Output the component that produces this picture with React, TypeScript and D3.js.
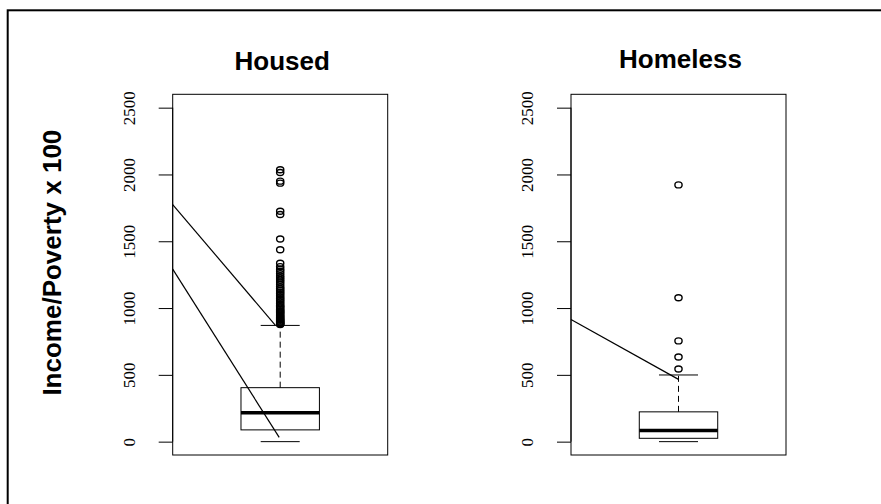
import React, { useEffect, useRef } from "react";
import * as d3 from "d3";

// box summaries, one entry per group
const groups = ["Housed", "Homeless"];
const lowerWhisker = [0, 0];
const q1 = [88, 25];
const medians = [216, 83];
const q3 = [404, 223];
const upperWhisker = [870, 499];

const housedOutliers = [
  876, 880, 885, 890, 896, 902, 908, 915, 922, 930, 938, 946, 955, 964, 972,
  980, 990, 1000, 1010, 1020, 1032, 1045, 1058, 1070, 1082, 1095, 1108, 1120,
  1133, 1146, 1160, 1178, 1195, 1210, 1225, 1240, 1258, 1275, 1290, 1310,
  1335, 1436, 1517, 1700, 1725, 1935, 1950, 2015, 2035,
];
const homelessOutliers = [544, 634, 754, 1077, 1922];

const yTicks = [0, 500, 1000, 1500, 2000, 2500];

// straight guide lines drawn over each panel: [x0, y0, x1, y1] in data units
const housedGuides = [
  [0.46, 1775, 0.975, 872],
  [0.46, 1291, 0.995, 32],
];
const homelessGuides = [[0.46, 915, 1.0, 466]];

const yLabel = "Income/Poverty x 100";

export default function App() {
  const ref = useRef<SVGSVGElement>(null);

  useEffect(() => {
    const width = 881;
    const height = 504;
    const top = 94.3;
    const bottom = 455;
    const panelWidth = 215;
    const panelLefts = [172.7, 571];
    const outliers = [housedOutliers, homelessOutliers];
    const guides = [housedGuides, homelessGuides];

    const svg = d3.select(ref.current);
    svg.selectAll("*").remove();
    svg.attr("width", width).attr("height", height);

    svg
      .append("rect")
      .attr("x", 7.7)
      .attr("y", 10.3)
      .attr("width", 1000)
      .attr("height", 1000)
      .attr("fill", "none")
      .attr("stroke", "black")
      .attr("stroke-width", 2);

    const y = d3.scaleLinear().domain([-100, 2600]).range([bottom, top]);

    groups.forEach((name, i) => {
      const left = panelLefts[i];
      const x = d3
        .scaleLinear()
        .domain([0.46, 1.54])
        .range([left, left + panelWidth]);
      const g = svg.append("g");

      // y axis
      const axis = g
        .append("g")
        .attr("transform", `translate(${left},0)`)
        .call(
          d3
            .axisLeft(y)
            .tickValues(yTicks)
            .tickSize(14)
            .tickFormat(d3.format("d"))
        );
      axis.select(".domain").attr("d", `M0,${y(0)}V${y(2500)}`);
      axis.selectAll("line").attr("stroke-width", 1);
      axis
        .selectAll("text")
        .attr("font-family", "'Liberation Serif', serif")
        .attr("font-size", 17)
        .attr("fill", "black")
        .attr("text-anchor", "middle")
        .attr("dy", 0)
        .attr("x", -38)
        .attr("y", 0)
        .attr("transform", "rotate(-90,-38,0)");

      // whisker
      const cx = x(1);
      g.append("line")
        .attr("x1", cx)
        .attr("x2", cx)
        .attr("y1", y(q3[i]))
        .attr("y2", y(upperWhisker[i]))
        .attr("stroke", "black")
        .attr("stroke-dasharray", "6,4");
      [upperWhisker[i], lowerWhisker[i]].forEach(v => {
        g.append("line")
          .attr("x1", x(1 - 0.098))
          .attr("x2", x(1 + 0.098))
          .attr("y1", y(v))
          .attr("y2", y(v))
          .attr("stroke", "black");
      });

      // box
      g.append("rect")
        .attr("x", x(1 - 0.197))
        .attr("width", x(1 + 0.197) - x(1 - 0.197))
        .attr("y", y(q3[i]))
        .attr("height", y(q1[i]) - y(q3[i]))
        .attr("fill", "none")
        .attr("stroke", "black");
      g.append("line")
        .attr("x1", x(1 - 0.197))
        .attr("x2", x(1 + 0.197))
        .attr("y1", y(medians[i]))
        .attr("y2", y(medians[i]))
        .attr("stroke", "black")
        .attr("stroke-width", 3.5);

      // outliers
      g.append("g")
        .selectAll("ellipse")
        .data(outliers[i])
        .join("ellipse")
        .attr("cx", cx)
        .attr("cy", d => y(d))
        .attr("rx", 3.6)
        .attr("ry", 3)
        .attr("fill", "none")
        .attr("stroke", "black")
        .attr("stroke-width", 1.4);

      // guide lines
      g.append("g")
        .selectAll("line")
        .data(guides[i])
        .join("line")
        .attr("x1", d => x(d[0]))
        .attr("y1", d => y(d[1]))
        .attr("x2", d => x(d[2]))
        .attr("y2", d => y(d[3]))
        .attr("stroke", "black")
        .attr("stroke-width", 1.2);

      // plot frame
      g.append("rect")
        .attr("x", left)
        .attr("y", top)
        .attr("width", panelWidth)
        .attr("height", bottom - top)
        .attr("fill", "none")
        .attr("stroke", "black");

      // title
      g.append("text")
        .attr("x", left + panelWidth / 2 + 2)
        .attr("y", i === 0 ? 70 : 67.5)
        .attr("text-anchor", "middle")
        .attr("font-family", "'Liberation Sans', Arial, sans-serif")
        .attr("font-weight", "bold")
        .attr("font-size", 26)
        .text(name);
    });

    svg
      .append("text")
      .attr("transform", `translate(61,${(top + bottom) / 2 - 12}) rotate(-90)`)
      .attr("text-anchor", "middle")
      .attr("font-family", "'Liberation Sans', Arial, sans-serif")
      .attr("font-weight", "bold")
      .attr("font-size", 26)
      .text(yLabel);
  }, []);

  return (
    <svg
      ref={ref}
      style={{ position: "absolute", left: 0, top: 0, background: "white" }}
    />
  );
}
